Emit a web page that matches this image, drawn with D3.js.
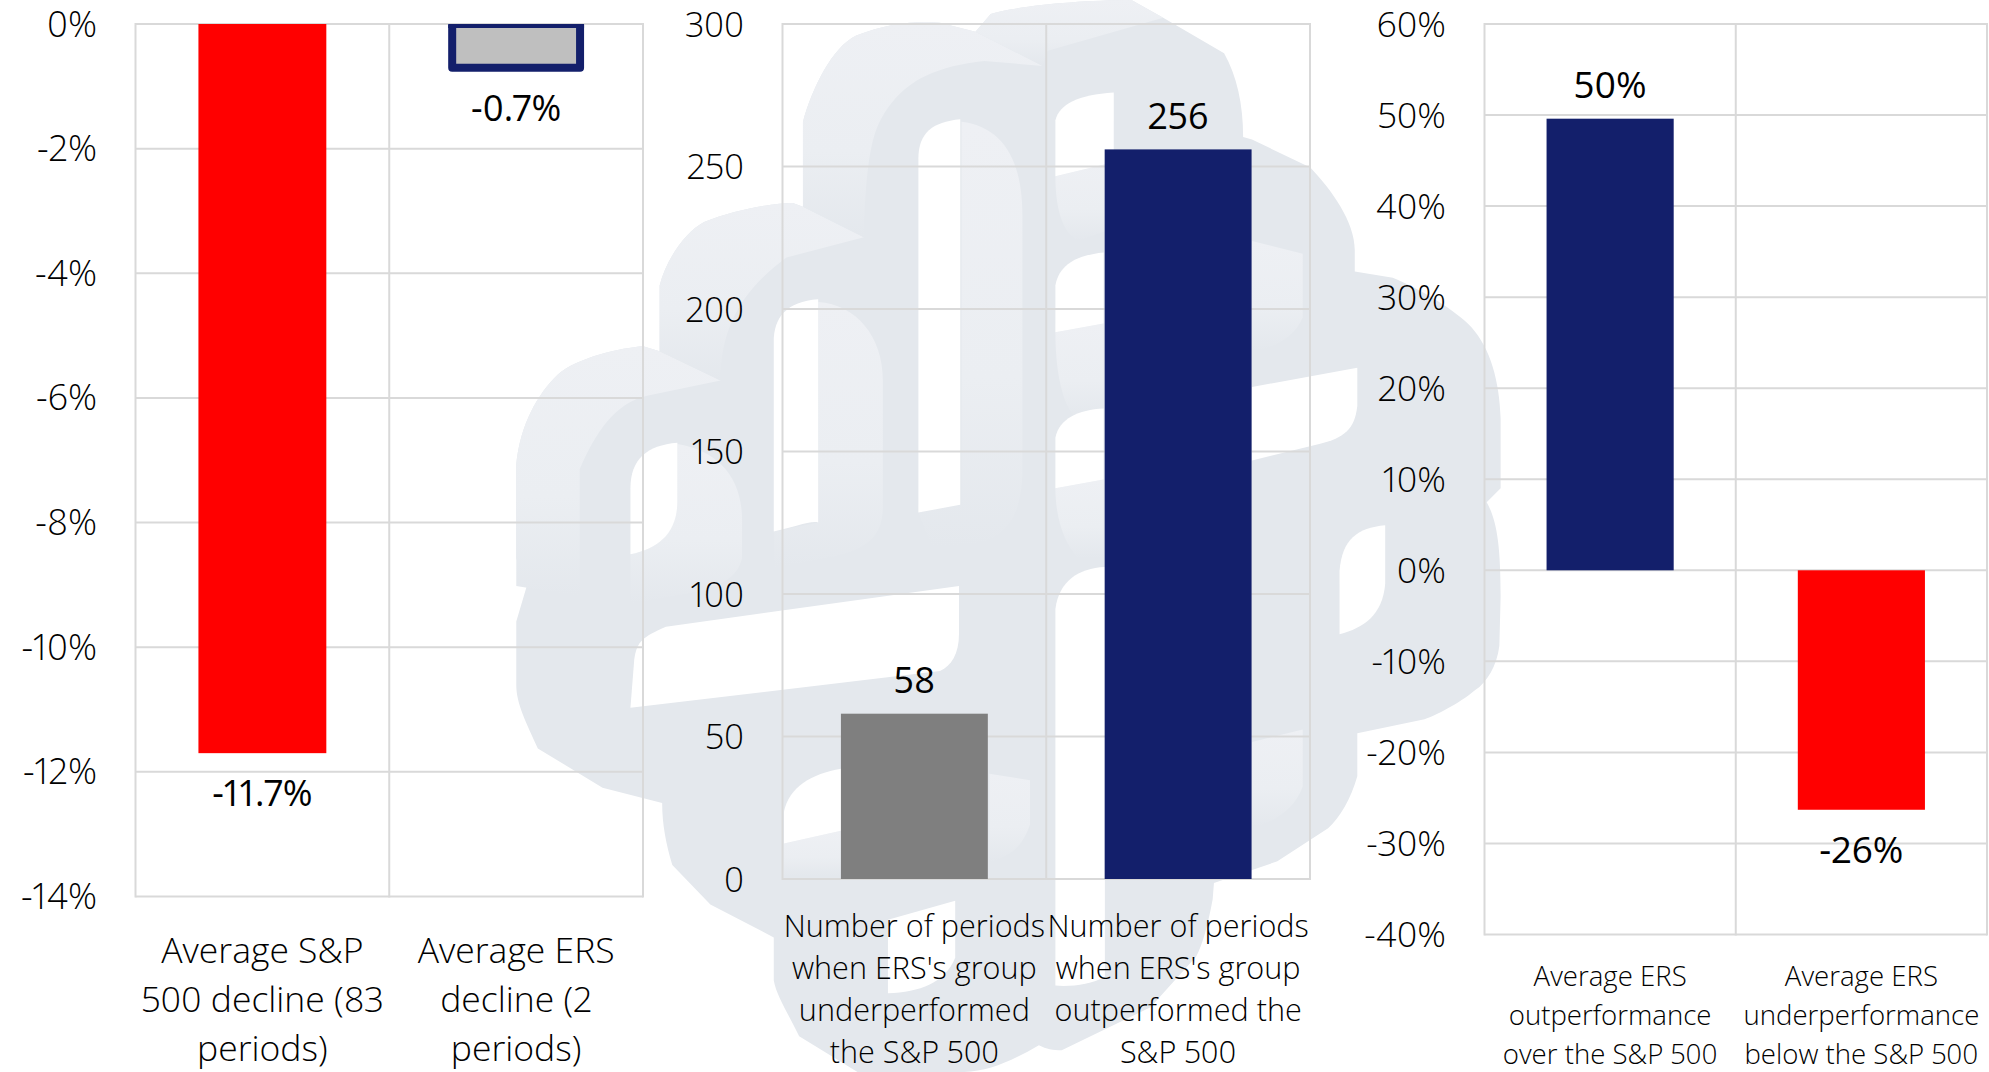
<!DOCTYPE html>
<html><head><meta charset="utf-8">
<script src="https://cdnjs.cloudflare.com/ajax/libs/d3/7.8.5/d3.min.js"></script>
<style>html,body{margin:0;padding:0;background:#fff}svg{display:block}
text{font-family:"Open Sans",sans-serif;fill:#000;font-feature-settings:"pnum"}
.tick text{font-weight:300}.cat{font-weight:300}.val{font-weight:400}</style></head><body>
<svg id="c" width="1989" height="1072"></svg>
<script>
// ---- data ----
const declineCats = [["Average S&P","500 decline (83","periods)"],["Average ERS","decline (2","periods)"]];
const declineVals = [-11.7,-0.7];
const declineTicks = [0,-2,-4,-6,-8,-10,-12,-14];
const periodCats = [["Number of periods","when ERS's group","underperformed","the S&P 500"],["Number of periods","when ERS's group","outperformed the","S&P 500"]];
const periodVals = [58,256];
const periodTicks = [0,50,100,150,200,250,300];
const gapCats = [["Average ERS","outperformance","over the S&P 500"],["Average ERS","underperformance","below the S&P 500"]];
const gapVals = [49.6,-26.3];
const gapTicks = [60,50,40,30,20,10,0,-10,-20,-30,-40];

const svg = d3.select("#c");
const grad = svg.append("defs").append("linearGradient").attr("id","facet").attr("x1",0).attr("y1",0).attr("x2",0).attr("y2",1);
grad.append("stop").attr("offset",0).attr("stop-color","#eef0f4");
grad.append("stop").attr("offset",0.6).attr("stop-color","#ebeef2");
grad.append("stop").attr("offset",1).attr("stop-color","#e4e8ed");
// watermark (decorative backdrop, in shrunk-reference units)
const logo = svg.append("g").attr("transform","scale(1.2685)");
const logoBody = "M407 366C410 335 424 310 440 295C455 282 490 274 507 273L520 277L520 225C525 205 540 183 555 175C580 165 610 160 625 160L633 163L633 96C640 70 656 37 675 28C700 18 725 16 741 18L769 25L781 11C800 5 850 0 892 0L917 14L965 42C975 60 980 82 980 108L987 110L1033 132C1050 150 1068 175 1068 197L1068 214L1098 219C1120 228 1148 245 1160 258C1175 275 1182 300 1183 330L1183 385L1172 396C1180 410 1183 430 1183 470L1182 509C1180 525 1172 538 1163 544C1150 555 1130 565 1123 567L1070 578L1070 612C1065 630 1056 645 1047 653L1007 679L957 696L956 709C952 730 948 745 943 754L907 794L837 828C830 828 825 827 819 824C800 835 780 845 760 845L676 845L630 817C622 800 612 785 610 773L610 739L560 713L530 682C525 665 522 650 522 633L475 621L424 590C415 570 407 555 407 540L407 490L415 463L407 440Z";
const logoLight = [
 "M407 366C410 335 424 310 440 295C455 282 490 274 507 273L520 277L568 300L510 312C485 318 470 340 457 370L457 470L407 462Z",
 "M520 277L520 225C525 205 540 183 555 175C580 165 610 160 625 160L633 163L681 187L620 203C590 225 568 253 568 300Z",
 "M633 163L633 96C640 70 656 37 675 28C700 18 725 16 741 18L769 25L822 52L776 48C740 52 716 62 700 85C690 100 683 113 681 187Z",
 "M769 25L781 11C800 5 850 0 892 0L917 14L826 40L822 52Z",
 "M758 96C790 100 806 125 806 170L806 370C806 410 790 425 770 428L735 432L724 404L758 398Z",
 "M645 238C675 240 696 265 696 300L696 400C696 425 680 435 650 440L610 448L610 419L645 412Z",
 "M534 350C565 355 585 375 585 410L585 440C580 460 560 465 530 470L497 476L497 437C520 432 534 420 534 395Z",
 "M832 139L878 128L878 180L850 190C840 185 832 170 832 139Z",
 "M832 262L870 255L870 330L850 330C840 325 832 300 832 262Z",
 "M832 385L870 378L870 440L850 440C840 430 832 410 832 385Z",
 "M987 190L1027 200L1027 250C1020 268 1000 275 987 277Z",
 "M987 585L1027 575L1027 620C1020 640 1000 650 987 652Z",
 "M780 610L812 615L812 650C805 670 795 675 780 680Z",
 "M618 665L663 655L663 690L618 690Z"];
const logoHoles = [
 "M724 404L724 125C724 105 735 96 757 94L757 398Z",
 "M610 419L610 270C610 250 620 238 645 236L645 412C640 410 625 416 610 419Z",
 "M497 437L497 385C497 362 510 351 534 349L534 395C534 420 520 432 497 437Z",
 "M497 558L500 520C502 505 507 502 525 494L756 462L756 500C756 515 750 525 741 529Z",
 "M832 139L832 95C835 82 850 75 878 73L878 128Z",
 "M832 262L832 225C835 208 850 201 870 199L870 255Z",
 "M832 385L832 345C835 330 850 323 870 322L870 378Z",
 "M987 305L1070 290L1070 320C1068 338 1060 345 1040 350L987 363Z",
 "M832 777L832 480C835 458 850 448 871 447L871 770C860 776 845 778 832 777Z",
 "M1056 500L1056 450C1058 425 1070 416 1092 414L1092 460C1090 485 1075 495 1056 500Z",
 "M700 783L700 725L753 710L753 755C745 775 725 782 700 783Z",
 "M618 665L618 640C622 620 640 610 663 606L663 655Z"];
logo.append("path").attr("d",logoBody).attr("fill","#e4e8ed");
logo.selectAll(".l").data(logoLight).join("path").attr("class","l").attr("d",d=>d).attr("fill","url(#facet)");
logo.selectAll(".h").data(logoHoles).join("path").attr("class","h").attr("d",d=>d).attr("fill","#fff");

const fmtPct = d => d + "%";
function panel(o){
  const y = d3.scaleLinear().domain(o.domain).range([o.top,o.bottom]);
  const x = d3.scaleBand().domain(o.cats.map((_,i)=>i)).range([o.left,o.right]).paddingInner(o.pad).paddingOuter(o.pad/2);
  const g = svg.append("g");
  const stroke = "#d9d9d9";
  const ax = d3.axisLeft(y).tickValues(o.ticks).tickFormat(o.tickFmt).tickSize(0).tickPadding(0);
  const axg = g.append("g").attr("transform",`translate(${o.labelX},0)`).call(ax);
  axg.select(".domain").remove();
  axg.selectAll("text").attr("font-size",o.tickSize).attr("dy",12).attr("x",0);
  g.selectAll(".grid").data(o.ticks).join("line").attr("class","grid")
    .attr("x1",o.left).attr("x2",o.right).attr("y1",d=>y(d)).attr("y2",d=>y(d))
    .attr("stroke",stroke).attr("stroke-width",2);
  const mid = x.step();
  g.selectAll(".vert").data([0,1,2]).join("line").attr("class","vert")
    .attr("x1",d=>o.left+d*mid).attr("x2",d=>o.left+d*mid).attr("y1",o.top-1).attr("y2",o.bottom+1)
    .attr("stroke",stroke).attr("stroke-width",2);
  o.vals.forEach((v,i)=>{
    const st = o.styles[i];
    const y0=Math.min(y(0),y(v)), h=Math.abs(y(v)-y(0));
    if(st.outline){
      const x0=x(i),w=x.bandwidth(),b=y0+h;
      g.append("path").attr("d",`M${x0} ${y0+1}L${x0} ${b}L${x0+w} ${b}L${x0+w} ${y0+1}`)
       .attr("fill",st.fill).attr("stroke",st.outline).attr("stroke-width",8).attr("stroke-linejoin","round");
      g.append("line").attr("x1",x0-4).attr("x2",x0+w+4).attr("y1",y0+2).attr("y2",y0+2).attr("stroke",st.outline).attr("stroke-width",4);
    } else {
      g.append("rect").attr("x",x(i)).attr("y",y0).attr("width",x.bandwidth()).attr("height",h).attr("fill",st.fill);
    }
    g.append("text").attr("class","val").attr("x",x(i)+x.bandwidth()/2)
      .attr("y",v<0?y(v)+o.belowGap:y(v)-20.5).attr("text-anchor","middle")
      .attr("font-size",o.valSize).text(o.valFmt(v));
    const t=g.append("text").attr("class","cat").attr("text-anchor","middle").attr("font-size",o.catSize);
    o.cats[i].forEach((line,k)=>t.append("tspan").attr("x",x(i)+x.bandwidth()/2).attr("y",o.catY+k*o.catPitch).text(line));
  });
}
panel({cats:declineCats,vals:declineVals,ticks:declineTicks,domain:[0,-14],top:24,bottom:896.5,left:135.5,right:643,labelX:97,pad:0.496,
  tickFmt:fmtPct,valFmt:d=>d.toFixed(1)+"%",tickSize:36,valSize:36,catSize:35.5,catY:962.5,catPitch:49.4,belowGap:53,
  styles:[{fill:"#ff0000"},{fill:"#bfbfbf",outline:"#131f6b"}]});
panel({cats:periodCats,vals:periodVals,ticks:periodTicks,domain:[300,0],top:24,bottom:879,left:782.5,right:1310,labelX:744,pad:0.443,
  tickFmt:d=>d,valFmt:d=>d,tickSize:34.5,valSize:36,catSize:30.6,catY:936.5,catPitch:42,belowGap:50,
  styles:[{fill:"#7f7f7f"},{fill:"#131f6b"}]});
panel({cats:gapCats,vals:gapVals,ticks:gapTicks,domain:[60,-40],top:24,bottom:934.5,left:1484.5,right:1987,labelX:1446,pad:0.494,
  tickFmt:fmtPct,valFmt:d=>Math.round(d)+"%",tickSize:35.5,valSize:37,catSize:27.6,catY:986,catPitch:38.8,belowGap:53,
  styles:[{fill:"#131f6b"},{fill:"#ff0000"}]});
</script></body></html>
